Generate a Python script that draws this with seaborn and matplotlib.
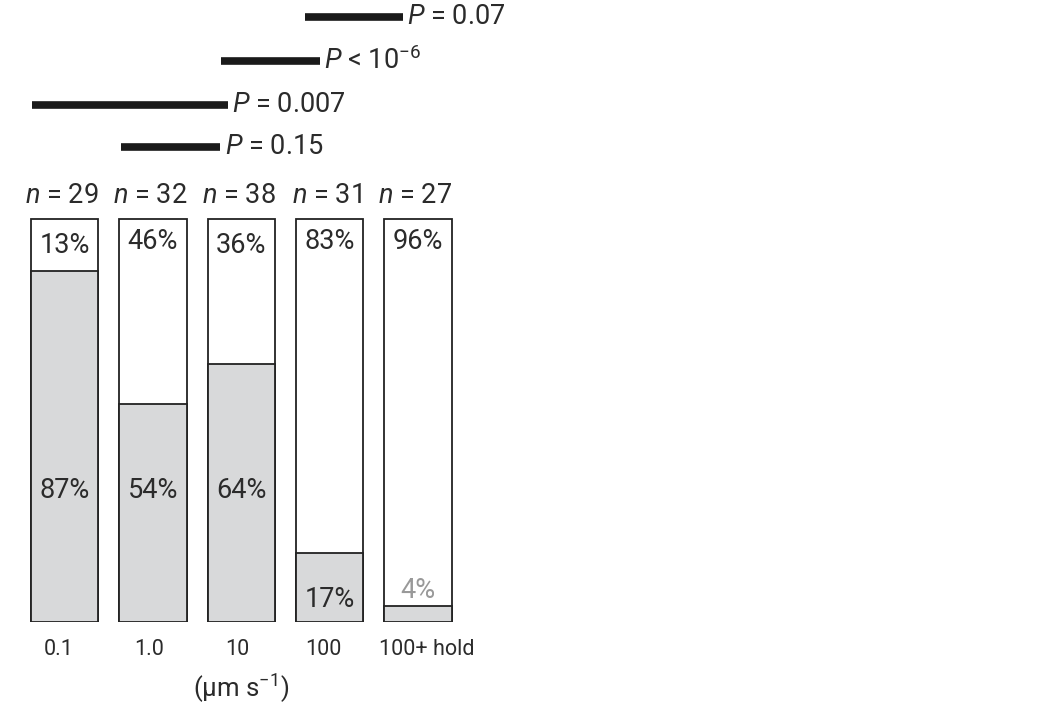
import matplotlib
matplotlib.use("Agg")
import matplotlib.pyplot as plt
import seaborn as sns
import pandas as pd

categories = ["0.1", "1.0", "10", "100", "100+ hold"]
n_values = [29, 32, 38, 31, 27]
grey_pct = [87, 54, 64, 17, 4]
white_pct = [13, 46, 36, 83, 96]
grey_label_y = [32.7, 32.7, 32.7, 5.5, 7.7]
white_label_y = [93.5, 94.5, 93.5, 94.5, 94.5]
pvals = ["$\\it{P}$ = 0.15", "$\\it{P}$ = 0.007", "$\\it{P}$ < 10$^{-6}$", "$\\it{P}$ = 0.07"]
p_x0 = [0.64, -0.37, 1.77, 2.72]
p_x1 = [1.76, 1.85, 2.89, 3.83]
p_y = [117.9, 128.3, 139.3, 150.2]
tick_shift = [-0.07, -0.04, -0.05, -0.07, 0.10]

sns.set_theme(style="white")
plt.rcParams["font.family"] = ["Roboto", "DejaVu Sans"]
plt.rcParams["mathtext.fontset"] = "custom"
plt.rcParams["mathtext.rm"] = "Roboto"
plt.rcParams["mathtext.it"] = "Roboto:italic"

txt = "#2b2b2b"
grey = "#d8d9da"

fig = plt.figure(figsize=(10.5, 7.07), dpi=100)
ax = fig.add_axes([0, (707 - 622) / 707, 520 / 1050, 622 / 707])

df = pd.DataFrame({"cat": categories, "total": [100] * 5, "grey": grey_pct})
sns.barplot(data=df, x="cat", y="total", color="white", edgecolor="#222222",
            linewidth=1.3, width=0.76, saturation=1, ax=ax)
sns.barplot(data=df, x="cat", y="grey", color=grey, edgecolor="#222222",
            linewidth=1.3, width=0.76, saturation=1, ax=ax)

ax.set_xlim(-0.73, 5.153)
ax.set_ylim(0, 622 / 403 * 100)
for s in ax.spines.values():
    s.set_visible(False)
ax.set_yticks([])
ax.set_xticks([i + d for i, d in enumerate(tick_shift)])
ax.set_xticklabels(categories)
ax.set_xlabel("")
ax.set_ylabel("")
ax.tick_params(axis="x", length=0, pad=12, labelsize=15.5, labelcolor=txt)

for i in range(5):
    col = "#999999" if i == 4 else txt
    ax.text(i, grey_label_y[i], f"{grey_pct[i]}%", ha="center", va="center",
            fontsize=19.5, color=col)
    ax.text(i, white_label_y[i], f"{white_pct[i]}%", ha="center", va="center",
            fontsize=19.5, color=txt)
    ax.text(i - 0.03, 105.8, f"$\\it{{n}}$ = {n_values[i]}", ha="center", va="center",
            fontsize=19.5, color=txt)

for x0, x1, y, lab in zip(p_x0, p_x1, p_y, pvals):
    ax.plot([x0, x1], [y, y], color="#1a1a1a", lw=5.5, solid_capstyle="butt",
            clip_on=False)
    ax.text(x1 + 0.05, y, lab, ha="left", va="center", fontsize=19.5, color=txt)

fig.text(241 / 1050, 1 - 688 / 707, "(µm s$^{-1}$)", ha="center", va="center",
         fontsize=18.5, color=txt)

fig.savefig("out.png", dpi=100, facecolor="white")
